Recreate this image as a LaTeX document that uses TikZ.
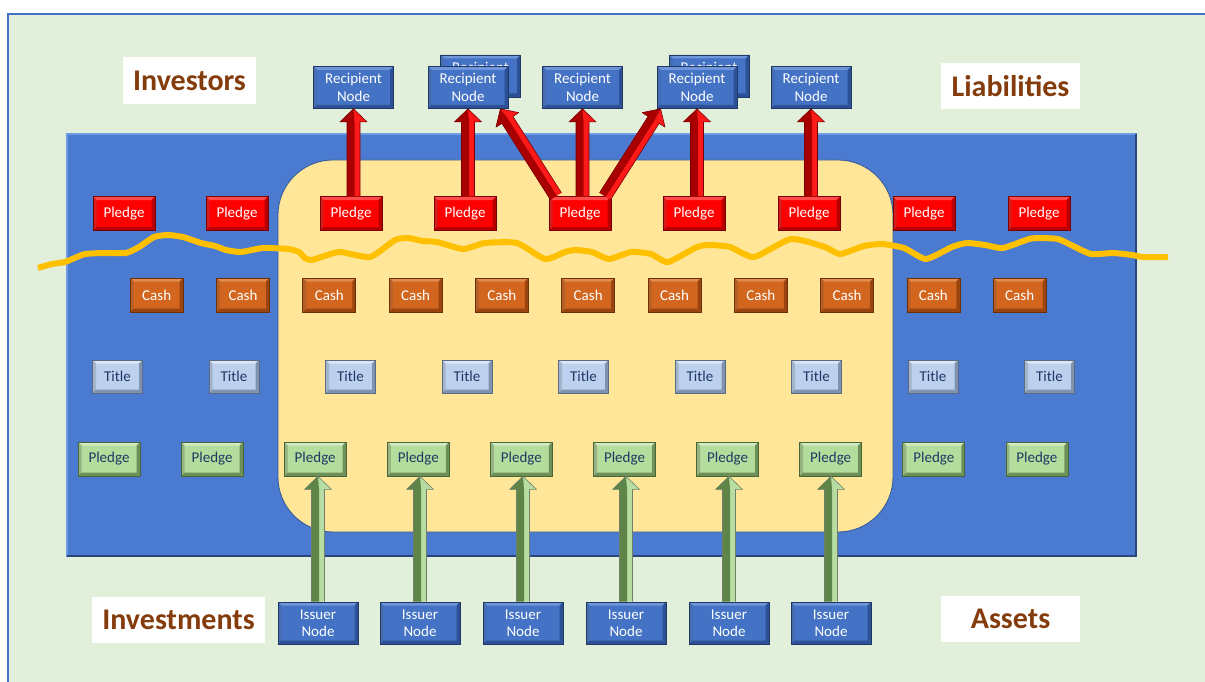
\documentclass[tikz,border=0pt]{standalone}
\usepackage{fontspec}
\setmainfont{Carlito}
\usetikzlibrary{calc}
\definecolor{framebg}{HTML}{E2EFDA}
\definecolor{frameline}{HTML}{4472C4}
\definecolor{bigblue}{HTML}{4A7BD0}
\definecolor{bigblueL}{HTML}{6E9AE6}
\definecolor{bigblueD}{HTML}{27467E}
\definecolor{yellowc}{HTML}{FFE699}
\definecolor{yellowB}{HTML}{2F5597}
\definecolor{wavec}{HTML}{FFC000}
\definecolor{brownc}{HTML}{843C0C}
\definecolor{navyc}{HTML}{1F3864}
\definecolor{redO}{HTML}{FF0000}
\definecolor{redL}{HTML}{FF4A4A}
\definecolor{redD}{HTML}{B80000}
\definecolor{redB}{HTML}{7A0000}
\definecolor{cashO}{HTML}{D2661E}
\definecolor{cashL}{HTML}{E08A4E}
\definecolor{cashD}{HTML}{9A4410}
\definecolor{cashB}{HTML}{6E2E06}
\definecolor{titleO}{HTML}{BDD0EE}
\definecolor{titleL}{HTML}{DCE5F4}
\definecolor{titleD}{HTML}{7F93AE}
\definecolor{titleB}{HTML}{5A6B85}
\definecolor{greenO}{HTML}{B4DC9C}
\definecolor{greenL}{HTML}{D2ECC2}
\definecolor{greenD}{HTML}{6D8F58}
\definecolor{greenB}{HTML}{4A6638}
\definecolor{blueO}{HTML}{4472C4}
\definecolor{blueL}{HTML}{6F96DA}
\definecolor{blueD}{HTML}{2C5196}
\definecolor{blueB}{HTML}{1F3864}
\definecolor{arrRedL}{HTML}{FF1A1A}
\definecolor{arrRedD}{HTML}{A80000}
\definecolor{arrRedB}{HTML}{7A0000}
\definecolor{arrGreenL}{HTML}{B7DDA2}
\definecolor{arrGreenD}{HTML}{5E8448}
\definecolor{arrGreenB}{HTML}{6F7F68}
\newcommand{\nodefont}{\fontsize{15pt}{17.5pt}\selectfont}
\newcommand{\blkarrow}[5]{%
  \path (#4) coordinate (ba-s) (#5) coordinate (ba-e);
  \path ($(ba-e)!13pt!(ba-s)$) coordinate (ba-h);
  \fill[#1] ($(ba-s)!6.5pt!90:(ba-e)$) -- ($(ba-h)!6.5pt!90:(ba-e)$) -- ($(ba-h)!13.5pt!90:(ba-e)$) -- (ba-e) -- ($(ba-h)!13.5pt!-90:(ba-e)$) -- ($(ba-h)!6.5pt!-90:(ba-e)$) -- ($(ba-s)!6.5pt!-90:(ba-e)$) -- cycle;
  \fill[#2] ($(ba-s)!6.5pt!90:(ba-e)$) -- ($(ba-h)!6.5pt!90:(ba-e)$) -- ($(ba-h)!13.5pt!90:(ba-e)$) -- (ba-e) -- ($(ba-h)!1pt!-90:(ba-e)$) -- ($(ba-s)!1pt!-90:(ba-e)$) -- cycle;
  \draw[#3, line width=0.6pt, line join=round] ($(ba-s)!6.5pt!90:(ba-e)$) -- ($(ba-h)!6.5pt!90:(ba-e)$) -- ($(ba-h)!13.5pt!90:(ba-e)$) -- (ba-e) -- ($(ba-h)!13.5pt!-90:(ba-e)$) -- ($(ba-h)!6.5pt!-90:(ba-e)$) -- ($(ba-s)!6.5pt!-90:(ba-e)$);
}
\tikzset{
  bx/.style n args={4}{fill=#1, draw=#4, line width=0.8pt, inner sep=0pt, font=\nodefont,
    path picture={
      \path (path picture bounding box.north west) coordinate (bnw)
            (path picture bounding box.south east) coordinate (bse);
      \fill[#2] (bnw) -- (bnw -| bse) -- ($(bnw -| bse)+(-3.5pt,-3.5pt)$) -- ($(bnw)+(3.5pt,-3.5pt)$) -- cycle;
      \fill[#2!40!#3] (bnw) -- ($(bnw)+(3.5pt,-3.5pt)$) -- ($(bnw |- bse)+(3.5pt,3.5pt)$) -- (bnw |- bse) -- cycle;
      \fill[#3] (bnw |- bse) -- ($(bnw |- bse)+(3.5pt,3.5pt)$) -- ($(bse)+(-3.5pt,3.5pt)$) -- (bse) -- cycle;
      \fill[#3] (bse) -- ($(bse)+(-3.5pt,3.5pt)$) -- ($(bnw -| bse)+(-3.5pt,-3.5pt)$) -- (bnw -| bse) -- cycle;
    }},
  redp/.style={bx={redO}{redL}{redD}{redB}, minimum width=62pt, minimum height=34pt, text=white},
  cashb/.style={bx={cashO}{cashL}{cashD}{cashB}, minimum width=53pt, minimum height=34pt, text=white},
  titleb/.style={bx={titleO}{titleL}{titleD}{titleB}, minimum width=50pt, minimum height=33pt, text=navyc},
  greenb/.style={bx={greenO}{greenL}{greenD}{greenB}, minimum width=62pt, minimum height=34pt, text=navyc},
  bluen/.style={bx={blueO}{blueL}{blueD}{blueB}, minimum width=80pt, minimum height=42pt, text=white, align=center},
  lbl/.style={fill=white, text=brownc, inner sep=0pt, font=\fontsize{30pt}{34pt}\selectfont\bfseries},
}
\begin{document}
\begin{tikzpicture}[x=1pt,y=-1pt]
\useasboundingbox (0,0) rectangle (1205,682);
\clip (0,0) rectangle (1205,682);
\fill[white] (0,0) rectangle (1205,682);
% frame
\draw[frameline, line width=1.2pt, fill=framebg] (8,14) rectangle (1220,700);
% big blue panel
\fill[bigblue] (66,133) rectangle (1137,557);
\draw[bigblueL, line width=2pt] (67,556) -- (67,134) -- (1136,134);
\draw[bigblueD, line width=2.5pt] (67,556) -- (1136,556) -- (1136,134);
% yellow rounded area
\draw[fill=yellowc, draw=yellowB, line width=0.8pt, rounded corners=55pt] (278,160) rectangle (893,532);
% wavy line
\draw[wavec, line width=6pt, line join=round] plot[smooth, tension=0.35] coordinates {
(38,268) (52,264) (65,262) (77,257) (85,254) (103,253) (126,253) (139,247) (154,237) (168,235) (183,237) (201,243) (215,246) (226,250) (241,252) (263,248) (288,249) (299,252) (305,258) (312,260) (339,252) (370,257) (395,240) (408,238) (423,241) (437,242) (463,249) (485,243) (517,243) (545,259) (565,252) (575,250) (592,252) (609,259) (631,252) (651,254) (668,262) (697,247) (710,245) (730,247) (754,257) (791,239) (825,247) (840,254) (864,246) (882,244) (904,248) (926,259) (952,247) (967,243) (985,245) (1003,248) (1029,239) (1040,238) (1058,239) (1071,245) (1091,254) (1113,253) (1132,255) (1143,257) (1168,257)};
% labels
\node[lbl, minimum width=133pt, minimum height=47pt] (inv) at (189.5,80.5) {Investors};
\node[lbl, minimum width=139pt, minimum height=46pt] (liab) at (1010.5,86) {Liabilities};
\node[lbl, minimum width=173pt, minimum height=46pt] (invest) at (178.5,620) {Investments};
\node[lbl, minimum width=139pt, minimum height=46pt] (assets) at (1010.5,619) {Assets};
% red pledges
\foreach \x [count=\i] in {124,237,351,465,580,694,809,924,1039}
  \node[redp] (p\i) at (\x,213.7) {Pledge};
% cash
\foreach \i in {1,...,11}
  \node[cashb] (c\i) at ({156.7+86.3*(\i-1)},295) {Cash};
% titles
\foreach \i in {1,...,9}
  \node[titleb] (t\i) at ({117.5+116.5*(\i-1)},376.7) {Title};
% green pledges
\foreach \i in {1,...,10}
  \node[greenb] (g\i) at ({109+103.1*(\i-1)},459) {Pledge};
% recipients
\node[bluen] (r2b) at (480.5,76) {Recipient\\Node};
\node[bluen] (r4b) at (709,76) {Recipient\\Node};
\node[bluen] (r1) at (353.5,87.5) {Recipient\\Node};
\node[bluen] (r2) at (468,87.5) {Recipient\\Node};
\node[bluen] (r3) at (582.5,87.5) {Recipient\\Node};
\node[bluen] (r4) at (697,87.5) {Recipient\\Node};
\node[bluen] (r5) at (811,87.5) {Recipient\\Node};
% issuers
\foreach \x [count=\i] in {318,420,523,626,729,831}
  \node[bluen] (i\i) at (\x,623) {Issuer\\Node};
% red arrows
\blkarrow{arrRedL}{arrRedD}{arrRedB}{r1.south |- p3.north}{r1.south}
\blkarrow{arrRedL}{arrRedD}{arrRedB}{r2.south |- p4.north}{r2.south}
\blkarrow{arrRedL}{arrRedD}{arrRedB}{r3.south |- p5.north}{r3.south}
\blkarrow{arrRedL}{arrRedD}{arrRedB}{r4.south |- p6.north}{r4.south}
\blkarrow{arrRedL}{arrRedD}{arrRedB}{r5.south |- p7.north}{r5.south}
\blkarrow{arrRedL}{arrRedD}{arrRedB}{$(p5.north)+(-24pt,0pt)$}{$(r2.south east)+(-8pt,0pt)$}
\blkarrow{arrRedL}{arrRedD}{arrRedB}{$(p5.north)+(25pt,0pt)$}{$(r4.south west)+(4pt,0pt)$}
% green arrows
\blkarrow{arrGreenL}{arrGreenD}{arrGreenB}{i1.north}{i1.north |- g3.south}
\blkarrow{arrGreenL}{arrGreenD}{arrGreenB}{i2.north}{i2.north |- g4.south}
\blkarrow{arrGreenL}{arrGreenD}{arrGreenB}{i3.north}{i3.north |- g5.south}
\blkarrow{arrGreenL}{arrGreenD}{arrGreenB}{i4.north}{i4.north |- g6.south}
\blkarrow{arrGreenL}{arrGreenD}{arrGreenB}{i5.north}{i5.north |- g7.south}
\blkarrow{arrGreenL}{arrGreenD}{arrGreenB}{i6.north}{i6.north |- g8.south}
\end{tikzpicture}
\end{document}
